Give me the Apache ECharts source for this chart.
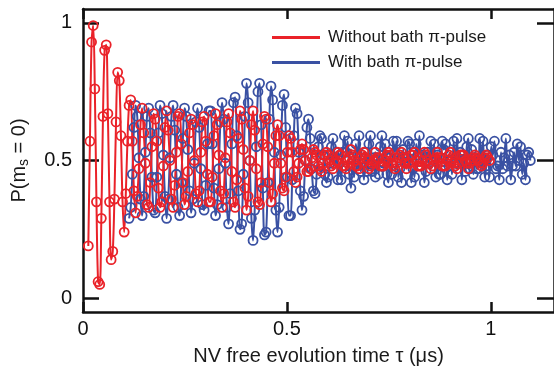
<!DOCTYPE html>
<html><head><meta charset="utf-8">
<script src="https://cdn.jsdelivr.net/npm/echarts@6/dist/echarts.min.js"></script>
<style>html,body{margin:0;padding:0;background:#fff}#c{width:554px;height:372px}</style>
</head><body><div id="c"></div>
<script>
const redName = 'Without bath π-pulse';
const blueName = 'With bath π-pulse';
const redStart = 0.013;
const blueStart = 0.113;
const sampleStep = 0.004;
const redValues = [
0.19,0.57,0.93,0.99,0.76,0.35,0.06,0.05,0.29,0.66,0.90,0.92,0.67,0.35,0.14,
0.17,0.36,0.64,0.82,0.79,0.59,0.35,0.24,0.38,0.57,0.70,0.72,0.57,0.39,0.31,
0.37,0.47,0.63,0.69,0.60,0.49,0.34,0.33,0.42,0.55,0.67,0.65,0.57,0.40,0.33,
0.35,0.48,0.62,0.68,0.61,0.50,0.36,0.33,0.41,0.53,0.66,0.67,0.56,0.42,0.34,
0.37,0.46,0.60,0.65,0.63,0.50,0.38,0.35,0.39,0.53,0.64,0.66,0.57,0.45,0.35,
0.35,0.44,0.59,0.67,0.63,0.52,0.39,0.33,0.38,0.51,0.64,0.67,0.60,0.46,0.35,
0.33,0.43,0.58,0.68,0.65,0.54,0.40,0.32,0.37,0.50,0.63,0.68,0.61,0.47,0.35,
0.34,0.42,0.56,0.66,0.65,0.55,0.42,0.35,0.38,0.49,0.59,0.63,0.59,0.49,0.40,
0.39,0.44,0.53,0.59,0.58,0.53,0.46,0.42,0.44,0.49,0.54,0.56,0.54,0.50,0.46,
0.46,0.47,0.51,0.54,0.53,0.52,0.48,0.47,0.46,0.49,0.52,0.53,0.52,0.50,0.48,
0.47,0.49,0.50,0.53,0.52,0.52,0.48,0.48,0.47,0.50,0.51,0.54,0.52,0.50,0.48,
0.48,0.47,0.51,0.52,0.53,0.51,0.50,0.47,0.48,0.49,0.50,0.53,0.51,0.51,0.48,
0.48,0.48,0.50,0.52,0.53,0.52,0.49,0.48,0.47,0.49,0.51,0.52,0.53,0.51,0.49,
0.47,0.49,0.49,0.52,0.52,0.53,0.50,0.48,0.48,0.48,0.50,0.53,0.52,0.50,0.49,
0.47,0.48,0.50,0.51,0.53,0.51,0.51,0.48,0.48,0.48,0.50,0.52,0.53,0.50,0.49,
0.48,0.47,0.49,0.52,0.52,0.52,0.50,0.49,0.47,0.49,0.50,0.51,0.52,0.51,0.50,
0.49,0.48,0.49,0.51,0.52,0.51,0.50
];
const blueValues = [
0.29,0.33,0.45,0.62,0.70,
0.66,0.51,0.36,0.30,0.37,0.53,0.66,0.69,0.60,0.44,0.32,0.31,0.44,0.60,0.70,
0.67,0.52,0.37,0.29,0.36,0.51,0.66,0.70,0.61,0.45,0.33,0.30,0.42,0.58,0.69,
0.66,0.54,0.39,0.31,0.36,0.49,0.64,0.69,0.62,0.47,0.34,0.32,0.41,0.56,0.68,
0.68,0.56,0.40,0.30,0.34,0.47,0.64,0.71,0.65,0.49,0.33,0.27,0.38,0.56,0.71,
0.73,0.59,0.39,0.25,0.27,0.45,0.66,0.78,0.71,0.50,0.29,0.21,0.32,0.55,0.75,
0.78,0.63,0.40,0.23,0.24,0.42,0.65,0.77,0.72,0.53,0.32,0.24,0.33,0.52,0.70,
0.74,0.62,0.44,0.30,0.30,0.43,0.59,0.69,0.67,0.53,0.39,0.32,0.37,0.50,0.62,
0.65,0.58,0.47,0.39,0.38,0.45,0.55,0.59,0.58,0.52,0.45,0.42,0.44,0.49,0.55,
0.58,0.51,0.53,0.43,0.49,0.43,0.53,0.59,0.53,0.57,0.45,0.40,0.48,0.44,0.56,
0.52,0.59,0.46,0.49,0.43,0.53,0.46,0.56,0.59,0.46,0.51,0.44,0.51,0.45,0.55,
0.59,0.49,0.56,0.45,0.42,0.51,0.45,0.57,0.53,0.57,0.44,0.47,0.42,0.54,0.51,
0.51,0.57,0.56,0.42,0.47,0.44,0.56,0.52,0.59,0.48,0.52,0.42,0.46,0.53,0.49,
0.57,0.50,0.56,0.44,0.52,0.45,0.45,0.57,0.54,0.56,0.43,0.48,0.50,0.45,0.57,
0.49,0.58,0.49,0.53,0.43,0.52,0.46,0.55,0.58,0.47,0.54,0.45,0.51,0.47,0.47,
0.58,0.51,0.57,0.44,0.48,0.52,0.44,0.55,0.52,0.57,0.47,0.48,0.43,0.53,0.47,
0.51,0.58,0.48,0.52,0.43,0.48,0.53,0.48,0.56,0.50,0.55,0.45,0.49,0.43,0.52,
0.53,0.50
];
const xTicks = [0, 0.5, 1];
const yTicks = [0, 0.5, 1];
const xLabelText = 'NV free evolution time τ (μs)';

const redColor = '#ea2229';
const blueColor = '#3a51a3';
const font = 'Liberation Sans, Arial, sans-serif';

const toData = (vals, start) => vals.map((v, i) => [+(start + i * sampleStep).toFixed(4), v]);

const chart = echarts.init(document.getElementById('c'), null, {renderer: 'canvas'});
const axisLine = {show: true, onZero: false, lineStyle: {color: '#111', width: 2.5}};
const tickStyle = {color: '#111', width: 2.5};
const xMax = 1.155;
chart.setOption({
  animation: false,
  backgroundColor: '#fff',
  grid: {left: 83, top: 9, width: 476, height: 303, containLabel: false},
  legend: {
    orient: 'vertical', left: 267, top: 24, itemWidth: 48, itemHeight: 3, itemGap: 8,
    textStyle: {fontSize: 17, color: '#1a1a1a', fontFamily: font, padding: [0, 0, 0, 3]},
    data: [
      {name: redName, icon: 'rect', itemStyle: {color: redColor, borderWidth: 0}},
      {name: blueName, icon: 'rect', itemStyle: {color: blueColor, borderWidth: 0}}
    ]
  },
  xAxis: [{
    type: 'value', min: 0, max: xMax, position: 'bottom',
    axisLine: axisLine,
    axisTick: {show: true, inside: true, length: 10, customValues: xTicks, lineStyle: tickStyle},
    axisLabel: {customValues: xTicks, fontSize: 20, color: '#111', fontFamily: font, margin: 7, formatter: v => String(v)},
    splitLine: {show: false},
    name: xLabelText, nameLocation: 'middle', nameGap: 34,
    nameTextStyle: {fontSize: 20, color: '#1a1a1a', fontFamily: font}
  }, {
    type: 'value', min: 0, max: xMax, position: 'top',
    axisLine: axisLine,
    axisTick: {show: true, inside: true, length: 10, customValues: xTicks, lineStyle: tickStyle},
    axisLabel: {show: false}, splitLine: {show: false}
  }],
  yAxis: [{
    type: 'value', min: -0.05, max: 1.05, position: 'left',
    axisLine: axisLine,
    axisTick: {show: true, inside: true, length: 16, customValues: yTicks, lineStyle: tickStyle},
    axisLabel: {customValues: yTicks, fontSize: 20, color: '#111', fontFamily: font, margin: 11, formatter: v => String(v)},
    splitLine: {show: false},
    name: '{a|P(m}{s|s}{a| = 0)}', nameLocation: 'middle', nameGap: 52, nameRotate: 90,
    nameTextStyle: {rich: {
      a: {fontSize: 20, color: '#1a1a1a', fontFamily: font},
      s: {fontSize: 14, color: '#1a1a1a', fontFamily: font, padding: [10, 0, 0, 0]}
    }}
  }, {
    type: 'value', min: -0.05, max: 1.05, position: 'right',
    axisLine: axisLine,
    axisTick: {show: true, inside: true, length: 17, customValues: yTicks, lineStyle: tickStyle},
    axisLabel: {show: false}, splitLine: {show: false}
  }],
  series: [{
    type: 'line', name: blueName, data: toData(blueValues, blueStart),
    xAxisIndex: 0, yAxisIndex: 0, smooth: 0.35,
    symbol: 'circle', symbolSize: 9,
    itemStyle: {color: 'rgba(0,0,0,0)', borderColor: blueColor, borderWidth: 1.8},
    lineStyle: {color: blueColor, width: 2}
  }, {
    type: 'line', name: redName, data: toData(redValues, redStart),
    xAxisIndex: 0, yAxisIndex: 0, smooth: 0.35,
    symbol: 'circle', symbolSize: 9,
    itemStyle: {color: 'rgba(0,0,0,0)', borderColor: redColor, borderWidth: 1.8},
    lineStyle: {color: redColor, width: 2}
  }]
});
</script>
</body></html>
